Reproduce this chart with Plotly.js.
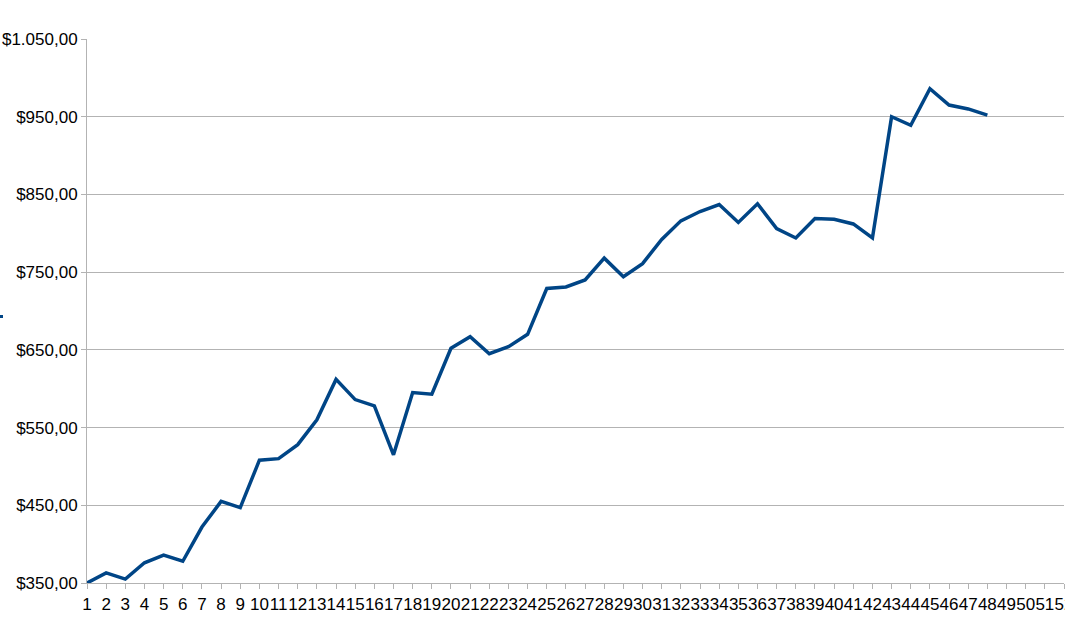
<!DOCTYPE html>
<html>
<head>
<meta charset="utf-8">
<script src="https://cdn.plot.ly/plotly-3.0.1.min.js"></script>
<style>
  html, body { margin: 0; padding: 0; background: #fff; }
  #chart { width: 1065px; height: 618px; }
</style>
</head>
<body>
<div id="chart"></div>
<script>
// week numbers shown on the x axis (data only runs to 48)
const weeks = [1, 2, 3, 4, 5, 6, 7, 8, 9, 10, 11, 12, 13, 14, 15, 16, 17, 18, 19, 20,
  21, 22, 23, 24, 25, 26, 27, 28, 29, 30, 31, 32, 33, 34, 35, 36, 37, 38, 39, 40,
  41, 42, 43, 44, 45, 46, 47, 48];
const axisWeeks = [1, 52];
const balance = [350, 363, 355, 376, 386, 378, 422, 455, 447, 508, 510, 528, 560, 612,
  586, 578, 515, 595, 593, 652, 667, 645, 654, 670, 729, 731, 740, 768, 744, 761,
  792, 816, 828, 837, 814, 838, 806, 794, 819, 818, 812, 794, 950, 939, 986, 965,
  960, 952];
const yRange = [350, 1050];

const lineColor = "#004586";
const gridColor = "#b3b3b3";

const balanceTrace = {
  x: weeks,
  y: balance,
  type: "scatter",
  mode: "lines",
  line: { color: lineColor, width: 3.5 },
  cliponaxis: false,
  hoverinfo: "skip",
};

const chartLayout = {
  width: 1065,
  height: 618,
  margin: { l: 87, r: 1, t: 39, b: 35 },
  paper_bgcolor: "#ffffff",
  plot_bgcolor: "#ffffff",
  separators: ",.",
  showlegend: false,
  font: { family: "Liberation Sans, Arial, sans-serif", size: 17, color: "#000000" },
  xaxis: {
    range: axisWeeks,
    tickmode: "linear",
    tick0: 1,
    dtick: 1,
    tickangle: 0,
    ticks: "outside",
    ticklen: 5,
    tickcolor: gridColor,
    showgrid: false,
    zeroline: false,
    showline: true,
    linecolor: gridColor,
    ticklabeloverflow: "allow",
    ticklabelstandoff: 1,
    tickfont: { size: 17 },
  },
  yaxis: {
    range: yRange,
    tickmode: "linear",
    tick0: 350,
    dtick: 100,
    tickprefix: "$",
    tickformat: ",.2f",
    ticks: "outside",
    ticklen: 5,
    tickcolor: gridColor,
    ticklabelstandoff: 0,
    showgrid: true,
    gridcolor: gridColor,
    gridwidth: 1,
    zeroline: false,
    showline: true,
    linecolor: gridColor,
    tickfont: { size: 17 },
  },
  shapes: [
    // tiny clipped marker at the far left edge
    {
      type: "rect",
      xref: "paper",
      yref: "paper",
      x0: -87 / 977,
      x1: -84 / 977,
      y0: (583 - 318) / 544,
      y1: (583 - 315) / 544,
      fillcolor: lineColor,
      line: { width: 0 },
    },
  ],
};

const chartConfig = { displayModeBar: false, staticPlot: true };

Plotly.newPlot("chart", [balanceTrace], chartLayout, chartConfig);
</script>
</body>
</html>
